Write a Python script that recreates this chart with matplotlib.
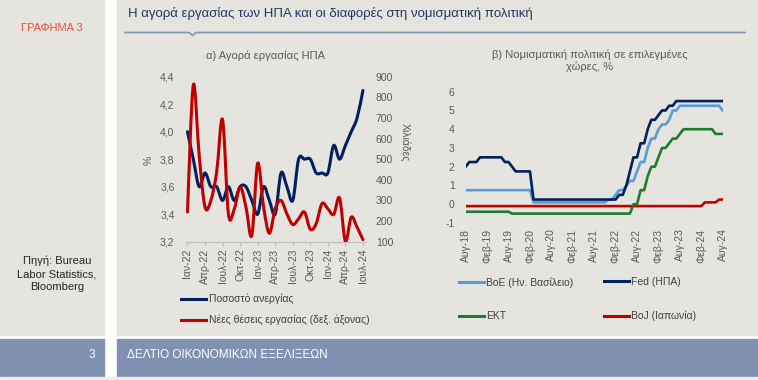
import matplotlib.pyplot as plt
from matplotlib.patches import Rectangle, PathPatch
from matplotlib.path import Path
from matplotlib.lines import Line2D

plt.rcParams['font.family'] = ['Liberation Sans', 'DejaVu Sans']
plt.rcParams['axes.unicode_minus'] = False

# ============================================
# Data
# ============================================

# (a) US labour market, monthly Jan-22 .. Jul-24
labour_ticks = ["Ιαν-22", "Απρ-22", "Ιουλ-22", "Οκτ-22", "Ιαν-23", "Απρ-23",
                "Ιουλ-23", "Οκτ-23", "Ιαν-24", "Απρ-24", "Ιουλ-24"]

unemployment = [4.0, 3.8, 3.6, 3.7, 3.6, 3.6, 3.5, 3.6, 3.5, 3.6, 3.6, 3.5,
                3.4, 3.6, 3.5, 3.4, 3.7, 3.6, 3.5, 3.8, 3.8, 3.8, 3.7, 3.7,
                3.7, 3.9, 3.8, 3.9, 4.0, 4.1, 4.3]

new_jobs = [244, 860, 520, 268, 300, 440, 692, 235, 258, 366, 268, 130,
            480, 270, 141, 260, 300, 235, 183, 211, 244, 160, 187, 285,
            260, 232, 312, 103, 219, 170, 110]

# (b) policy rates, monthly Aug-18 .. Aug-24
policy_ticks = ["Αυγ-18", "Φεβ-19", "Αυγ-19", "Φεβ-20", "Αυγ-20", "Φεβ-21",
                "Αυγ-21", "Φεβ-22", "Αυγ-22", "Φεβ-23", "Αυγ-23", "Φεβ-24",
                "Αυγ-24"]

fed = [2.0, 2.25, 2.25, 2.25, 2.5, 2.5, 2.5, 2.5, 2.5, 2.5, 2.5, 2.25,
       2.25, 2.0, 1.75, 1.75, 1.75, 1.75, 1.75, 0.25, 0.25, 0.25, 0.25, 0.25,
       0.25, 0.25, 0.25, 0.25, 0.25, 0.25, 0.25, 0.25, 0.25, 0.25, 0.25, 0.25,
       0.25, 0.25, 0.25, 0.25, 0.25, 0.25, 0.25, 0.5, 0.5, 1.0, 1.75, 2.5,
       2.5, 3.25, 3.25, 4.0, 4.5, 4.5, 4.75, 5.0, 5.0, 5.25, 5.25, 5.5,
       5.5, 5.5, 5.5, 5.5, 5.5, 5.5, 5.5, 5.5, 5.5, 5.5, 5.5, 5.5,
       5.5]

boe = [0.75, 0.75, 0.75, 0.75, 0.75, 0.75, 0.75, 0.75, 0.75, 0.75, 0.75, 0.75,
       0.75, 0.75, 0.75, 0.75, 0.75, 0.75, 0.75, 0.1, 0.1, 0.1, 0.1, 0.1,
       0.1, 0.1, 0.1, 0.1, 0.1, 0.1, 0.1, 0.1, 0.1, 0.1, 0.1, 0.1,
       0.1, 0.1, 0.1, 0.1, 0.25, 0.25, 0.5, 0.75, 0.75, 1.0, 1.25, 1.25,
       1.75, 2.25, 2.25, 3.0, 3.5, 3.5, 4.0, 4.25, 4.25, 4.5, 5.0, 5.0,
       5.25, 5.25, 5.25, 5.25, 5.25, 5.25, 5.25, 5.25, 5.25, 5.25, 5.25, 5.25,
       5.0]

ecb = [-0.4, -0.4, -0.4, -0.4, -0.4, -0.4, -0.4, -0.4, -0.4, -0.4, -0.4, -0.4,
       -0.4, -0.5, -0.5, -0.5, -0.5, -0.5, -0.5, -0.5, -0.5, -0.5, -0.5, -0.5,
       -0.5, -0.5, -0.5, -0.5, -0.5, -0.5, -0.5, -0.5, -0.5, -0.5, -0.5, -0.5,
       -0.5, -0.5, -0.5, -0.5, -0.5, -0.5, -0.5, -0.5, -0.5, -0.5, -0.5, 0.0,
       0.0, 0.75, 0.75, 1.5, 2.0, 2.0, 2.5, 3.0, 3.0, 3.25, 3.5, 3.5,
       3.75, 4.0, 4.0, 4.0, 4.0, 4.0, 4.0, 4.0, 4.0, 4.0, 3.75, 3.75,
       3.75]

boj = [-0.1, -0.1, -0.1, -0.1, -0.1, -0.1, -0.1, -0.1, -0.1, -0.1, -0.1, -0.1,
       -0.1, -0.1, -0.1, -0.1, -0.1, -0.1, -0.1, -0.1, -0.1, -0.1, -0.1, -0.1,
       -0.1, -0.1, -0.1, -0.1, -0.1, -0.1, -0.1, -0.1, -0.1, -0.1, -0.1, -0.1,
       -0.1, -0.1, -0.1, -0.1, -0.1, -0.1, -0.1, -0.1, -0.1, -0.1, -0.1, -0.1,
       -0.1, -0.1, -0.1, -0.1, -0.1, -0.1, -0.1, -0.1, -0.1, -0.1, -0.1, -0.1,
       -0.1, -0.1, -0.1, -0.1, -0.1, -0.1, -0.1, 0.1, 0.1, 0.1, 0.1, 0.25,
       0.25]

# ============================================
# Colours / helpers
# ============================================

NAVY = "#002060"
RED = "#C00000"
LIGHT_BLUE = "#5B9BD5"
GREEN = "#1E7B30"
PANEL = "#E5E4DF"
BANNER = "#8091B2"
GREY_TXT = "#595959"

W, H = 758, 380


def fx(px):
    return px / W


def fy(py):
    return 1 - py / H


def smooth_path(xs, ys):
    # excel-like smoothed line: bezier segments through every point
    verts = [(xs[0], ys[0])]
    codes = [Path.MOVETO]
    n = len(xs)
    for i in range(n - 1):
        xa, ya = (xs[i - 1], ys[i - 1]) if i > 0 else (xs[i], ys[i])
        xb, yb = (xs[i + 2], ys[i + 2]) if i + 2 < n else (xs[i + 1], ys[i + 1])
        c1 = (xs[i] + (xs[i + 1] - xa) / 6, ys[i] + (ys[i + 1] - ya) / 6)
        c2 = (xs[i + 1] - (xb - xs[i]) / 6, ys[i + 1] - (yb - ys[i]) / 6)
        verts += [c1, c2, (xs[i + 1], ys[i + 1])]
        codes += [Path.CURVE4] * 3
    return Path(verts, codes)


fig = plt.figure(figsize=(7.58, 3.80), dpi=100)
fig.patch.set_facecolor("white")

# ============================================
# Page decoration
# ============================================

fig.add_artist(Rectangle((0, fy(335)), fx(104), 335 / H, color=PANEL,
                         transform=fig.transFigure, zorder=0))
fig.add_artist(Rectangle((fx(117), fy(335)), fx(W - 117), 335 / H, color=PANEL,
                         transform=fig.transFigure, zorder=0))
fig.add_artist(Rectangle((0, fy(377)), fx(104), 38 / H, color=BANNER,
                         transform=fig.transFigure, zorder=0))
fig.add_artist(Rectangle((fx(117), fy(377)), fx(W - 117), 38 / H, color=BANNER,
                         transform=fig.transFigure, zorder=0))
fig.add_artist(Rectangle((0, 0), 1, 3 / H, color="#EDEDED",
                         transform=fig.transFigure, zorder=0))

fig.text(fx(52), fy(28), "ΓΡΑΦΗΜΑ 3", ha="center", va="center",
         fontsize=8, color="#E8513B")
fig.text(fx(57), fy(274), "Πηγή: Bureau\nLabor Statistics,\nBloomberg",
         ha="center", va="center", fontsize=8, color="#262626", linespacing=1.35)

fig.text(fx(128), fy(14), "Η αγορά εργασίας των ΗΠΑ και οι διαφορές στη νομισματική πολιτική",
         ha="left", va="center", fontsize=9.5, color="#1F3864")
fig.add_artist(Line2D([fx(125), fx(189), fx(192.5), fx(196), fx(745)],
                      [fy(32.5), fy(32.5), fy(35.5), fy(32.5), fy(32.5)],
                      color="#8497B0", lw=1.2, transform=fig.transFigure))

fig.text(fx(92), fy(355), "3", ha="center", va="center", fontsize=8.5, color="white")
fig.text(fx(127), fy(355), "ΔΕΛΤΙΟ ΟΙΚΟΝΟΜΙΚΩΝ ΕΞΕΛΙΞΕΩΝ", ha="left", va="center",
         fontsize=8.5, color="white")

# ============================================
# (a) US labour market
# ============================================

fig.text(fx(265), fy(56), "α) Αγορά εργασίας ΗΠΑ", ha="center", va="center",
         fontsize=8, color=GREY_TXT)

ax = fig.add_axes([fx(185.7), fy(241.7), 179 / W, 165 / H])
ax.set_facecolor("none")
ax2 = ax.twinx()

months_a = list(range(len(unemployment)))
ax.add_patch(PathPatch(smooth_path(months_a, unemployment), fill=False,
                       ec=NAVY, lw=2.2, capstyle="round", joinstyle="round"))
ax2.add_patch(PathPatch(smooth_path(months_a, new_jobs), fill=False,
                        ec=RED, lw=2.2, capstyle="round", joinstyle="round"))

ax.set_xlim(-0.3, 30.3)
ax.set_ylim(3.2, 4.4)
ax2.set_ylim(100, 900)

left_ticks = [3.2, 3.4, 3.6, 3.8, 4.0, 4.2, 4.4]
ax.set_yticks(left_ticks)
ax.set_yticklabels([f"{v:.1f}".replace(".", ",") for v in left_ticks])
ax2.set_yticks([100, 200, 300, 400, 500, 600, 700, 800, 900])
ax.set_xticks(range(0, 31, 3))
ax.set_xticklabels(labour_ticks, rotation=90)

ax.tick_params(axis="y", length=0, pad=8, labelsize=7.5, labelcolor=GREY_TXT)
ax2.tick_params(axis="y", length=0, pad=8, labelsize=7.5, labelcolor=GREY_TXT)
ax.tick_params(axis="x", length=3, color="#BFBFBF", pad=2, labelsize=7.5,
               labelcolor=GREY_TXT)

for a in (ax, ax2):
    for s in ("left", "right", "top"):
        a.spines[s].set_visible(False)
    a.spines["bottom"].set_color("#BFBFBF")
    a.spines["bottom"].set_linewidth(0.8)

fig.text(fx(149), fy(160), "%", rotation=90, ha="center", va="center",
         fontsize=7.5, color=GREY_TXT)
fig.text(fx(405), fy(142), "Χιλιάδες", rotation=270, ha="center", va="center",
         fontsize=7.5, color=GREY_TXT)

fig.legend(handles=[Line2D([], [], color=NAVY, lw=2.2),
                    Line2D([], [], color=RED, lw=2.2)],
           labels=["Ποσοστό ανεργίας", "Νέες θέσεις εργασίας (δεξ. άξονας)"],
           loc="upper left", bbox_to_anchor=(fx(181), fy(294)), frameon=False,
           fontsize=7.5, handlelength=2.4, handletextpad=0.25, labelspacing=1.0,
           borderaxespad=0, borderpad=0, labelcolor="#404040")

# ============================================
# (b) Policy rates
# ============================================

fig.text(fx(590), fy(61), "β) Νομισματική πολιτική σε επιλεγμένες\nχώρες, %",
         ha="center", va="center", fontsize=8, color=GREY_TXT, linespacing=1.15)

bx = fig.add_axes([fx(465.7), fy(223), 257 / W, 131.3 / H])
bx.set_facecolor("none")

months_b = list(range(len(fed)))
bx.plot(months_b, boj, color=RED, lw=1.9)
bx.plot(months_b, ecb, color=GREEN, lw=1.9)
bx.plot(months_b, boe, color=LIGHT_BLUE, lw=1.9)
bx.plot(months_b, fed, color=NAVY, lw=1.9)

bx.set_xlim(0, 72)
bx.set_ylim(-1, 6)
bx.set_yticks(range(-1, 7))
bx.set_xticks(range(0, 73, 6))
bx.set_xticklabels(policy_ticks, rotation=90)
bx.tick_params(axis="y", length=0, pad=8, labelsize=7.5, labelcolor=GREY_TXT)
bx.tick_params(axis="x", length=0, pad=4, labelsize=7.5, labelcolor=GREY_TXT)
for s in bx.spines.values():
    s.set_visible(False)

fig.legend(handles=[Line2D([], [], color=LIGHT_BLUE, lw=2.2),
                    Line2D([], [], color=GREEN, lw=2.2)],
           labels=["BoE (Ην. Βασίλειο)", "ΕΚΤ"],
           loc="upper left", bbox_to_anchor=(fx(459), fy(277)), frameon=False,
           fontsize=7.5, handlelength=2.4, handletextpad=0.2, labelspacing=2.3,
           borderaxespad=0, borderpad=0, labelcolor="#404040")
fig.legend(handles=[Line2D([], [], color=NAVY, lw=2.2),
                    Line2D([], [], color=RED, lw=2.2)],
           labels=["Fed (ΗΠΑ)", "BoJ (Ιαπωνία)"],
           loc="upper left", bbox_to_anchor=(fx(604), fy(277)), frameon=False,
           fontsize=7.5, handlelength=2.4, handletextpad=0.2, labelspacing=2.3,
           borderaxespad=0, borderpad=0, labelcolor="#404040")

fig.savefig("out.png", dpi=100, facecolor=fig.get_facecolor())
